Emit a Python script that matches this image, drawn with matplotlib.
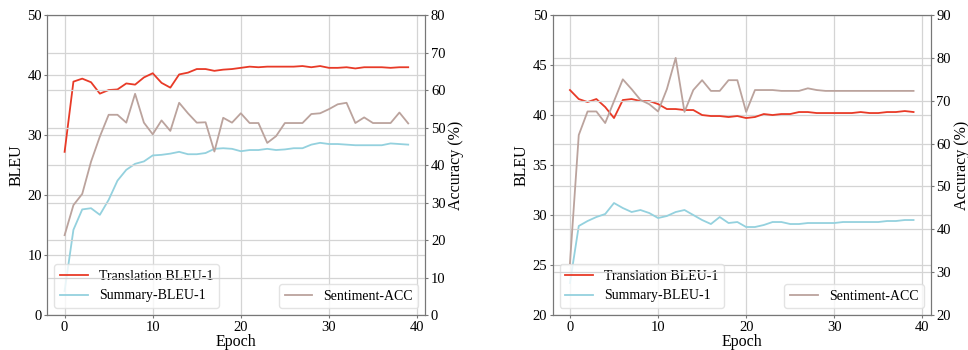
import matplotlib
matplotlib.use("Agg")
import matplotlib.pyplot as plt
import numpy as np

plt.rcParams["font.family"] = ["Liberation Serif", "DejaVu Serif"]

epochs = list(range(40))

# left panel
trans_a = [27.2, 38.9, 39.4, 38.8, 36.9, 37.5, 37.6, 38.6, 38.4, 39.6,
           40.3, 38.7, 37.9, 40.1, 40.4, 41.0, 41.0, 40.7, 40.9, 41.0,
           41.2, 41.4, 41.3, 41.4, 41.4, 41.4, 41.4, 41.5, 41.3, 41.5,
           41.2, 41.2, 41.3, 41.1, 41.3, 41.3, 41.3, 41.2, 41.3, 41.3]
summ_a = [4.0, 14.2, 17.6, 17.8, 16.7, 19.2, 22.4, 24.2, 25.2, 25.6,
          26.6, 26.7, 26.9, 27.2, 26.8, 26.8, 27.0, 27.7, 27.8, 27.7,
          27.3, 27.5, 27.5, 27.7, 27.5, 27.6, 27.8, 27.8, 28.4, 28.7,
          28.5, 28.5, 28.4, 28.3, 28.3, 28.3, 28.3, 28.6, 28.5, 28.4]
sent_a = [21.3, 29.3, 32.3, 40.9, 47.6, 53.4, 53.4, 51.3, 59.0, 51.3,
          48.2, 51.9, 49.1, 56.6, 53.8, 51.3, 51.4, 43.6, 52.6, 51.3,
          53.8, 51.2, 51.2, 45.9, 47.7, 51.2, 51.2, 51.2, 53.6, 53.8,
          54.9, 56.2, 56.6, 51.2, 52.7, 51.2, 51.2, 51.2, 54.0, 51.1]

# right panel
trans_b = [42.5, 41.6, 41.3, 41.6, 40.8, 39.7, 41.5, 41.6, 41.4, 41.4,
           41.1, 40.6, 40.6, 40.5, 40.5, 40.0, 39.9, 39.9, 39.8, 39.9,
           39.7, 39.8, 40.1, 40.0, 40.1, 40.1, 40.3, 40.3, 40.2, 40.2,
           40.2, 40.2, 40.2, 40.3, 40.2, 40.2, 40.3, 40.3, 40.4, 40.3]
summ_b = [23.2, 28.9, 29.4, 29.8, 30.1, 31.2, 30.7, 30.3, 30.5, 30.2,
          29.7, 29.9, 30.3, 30.5, 30.0, 29.5, 29.1, 29.8, 29.2, 29.3,
          28.8, 28.8, 29.0, 29.3, 29.3, 29.1, 29.1, 29.2, 29.2, 29.2,
          29.2, 29.3, 29.3, 29.3, 29.3, 29.3, 29.4, 29.4, 29.5, 29.5]
sent_b = [32.1, 62.0, 67.5, 67.5, 64.8, 69.9, 75.0, 72.7, 70.2, 69.2,
          67.5, 72.7, 80.0, 67.4, 72.5, 74.8, 72.3, 72.3, 74.8, 74.8,
          67.4, 72.5, 72.5, 72.5, 72.3, 72.3, 72.3, 72.9, 72.5, 72.3,
          72.3, 72.3, 72.3, 72.3, 72.3, 72.3, 72.3, 72.3, 72.3, 72.3]

panels = [
    (trans_a, summ_a, sent_a, (0, 50), np.arange(0, 51, 10), (0, 80), np.arange(0, 81, 10)),
    (trans_b, summ_b, sent_b, (20, 50), np.arange(20, 51, 5), (20, 90), np.arange(20, 91, 10)),
]

c_red = "#e83a27"
c_blue = "#94d1de"
c_brown = "#bba39d"
grid_c = "#d4d4d4"
spine_c = "#777777"

fig, axes = plt.subplots(1, 2, figsize=(9.68, 3.5), dpi=100)
plt.subplots_adjust(left=0.049, right=0.9615, bottom=0.1, top=0.957, wspace=0.337)

for ax, (tr, su, se, ylim1, yt1, ylim2, yt2) in zip(axes, panels):
    ax2 = ax.twinx()
    ax.plot(epochs, tr, color=c_red, lw=1.3, label="Translation BLEU-1")
    ax.plot(epochs, su, color=c_blue, lw=1.3, label="Summary-BLEU-1")
    ax2.plot(epochs, se, color=c_brown, lw=1.3, label="Sentiment-ACC")

    ax.set_ylim(*ylim1)
    ax.set_yticks(yt1)
    ax2.set_ylim(*ylim2)
    ax2.set_yticks(yt2)
    ax.set_xticks([0, 10, 20, 30, 40])

    ax.grid(True, color=grid_c, lw=0.9)
    ax2.grid(True, axis="y", color=grid_c, lw=0.9)
    ax.set_axisbelow(True)

    for a in (ax, ax2):
        for s in a.spines.values():
            s.set_color(spine_c)
        a.tick_params(colors=spine_c, labelcolor="black", labelsize=10.5,
                      length=2.5, pad=1.5)

    ax.set_xlabel("Epoch", fontsize=11.5, labelpad=0)
    ax.set_ylabel("BLEU", fontsize=11.5, labelpad=2)
    ax2.set_ylabel("Accuracy (%)", fontsize=11.5, labelpad=2)

    ax.legend(loc="lower left", fontsize=10, framealpha=0.8, edgecolor="#dddddd")
    ax2.legend(loc="lower right", fontsize=10, framealpha=0.8, edgecolor="#dddddd")

plt.savefig("out.png", dpi=100)
